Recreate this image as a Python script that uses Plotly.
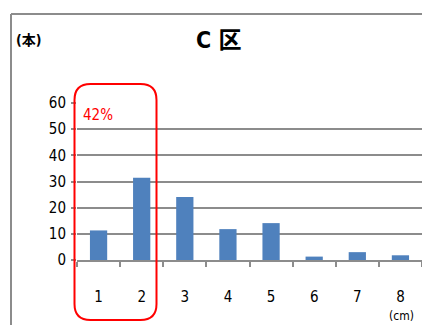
import plotly.graph_objects as go

# Stem diameter classes (cm) and tree counts
categories = ["1", "2", "3", "4", "5", "6", "7", "8"]
counts = [11.3, 31.4, 24.1, 11.8, 14.1, 1.3, 3.0, 1.8]
y_ticks = [0, 10, 20, 30, 40, 50, 60]
share_label = "42%"

W, H = 422, 325
L, R, T, B = 77, 0, 103, 65
PW = W - L - R
PH = H - T - B

def px(x):
    return (x - L) / PW

def py(y):
    return (H - B - y) / PH

font_main = "Liberation Sans Narrow, DejaVu Sans Condensed, Liberation Sans"

fig = go.Figure(
    go.Bar(
        x=categories,
        y=counts,
        width=0.4,
        marker=dict(color="#4f81bd", line=dict(width=0)),
        hoverinfo="skip",
    )
)

# rounded box around classes 1-2
x0, x1, y0, y1, r = 74.5, 156.5, 84, 320, 16
path = (
    f"M {px(x0 + r)},{py(y0)} L {px(x1 - r)},{py(y0)} "
    f"Q {px(x1)},{py(y0)} {px(x1)},{py(y0 + r)} "
    f"L {px(x1)},{py(y1 - r)} Q {px(x1)},{py(y1)} {px(x1 - r)},{py(y1)} "
    f"L {px(x0 + r)},{py(y1)} Q {px(x0)},{py(y1)} {px(x0)},{py(y1 - r)} "
    f"L {px(x0)},{py(y0 + r)} Q {px(x0)},{py(y0)} {px(x0 + r)},{py(y0)} Z"
)

shapes = [
    dict(type="path", xref="paper", yref="paper", path=path,
         line=dict(color="#ff0000", width=2)),
    # outer frame lines
    dict(type="line", xref="paper", yref="paper",
         x0=px(11), x1=px(422), y0=py(14), y1=py(14),
         line=dict(color="#8c8c8c", width=2)),
    dict(type="line", xref="paper", yref="paper",
         x0=px(11), x1=px(11), y0=py(14), y1=py(325),
         line=dict(color="#8c8c8c", width=2)),
]

annotations = [
    dict(text="<b>C 区</b>", xref="paper", yref="paper", x=px(218), y=py(40),
         showarrow=False, font=dict(size=23, color="#000000",
                                    family=font_main + ", Noto Sans CJK JP"),
         xanchor="center", yanchor="middle"),
    dict(text="<b>(本)</b>", xref="paper", yref="paper", x=px(29), y=py(40),
         showarrow=False, font=dict(size=14, color="#000000",
                                    family=font_main + ", Noto Sans CJK JP"),
         xanchor="center", yanchor="middle"),
    dict(text="(cm)", xref="paper", yref="paper", x=px(401), y=py(316),
         showarrow=False, font=dict(size=12, color="#000000", family=font_main),
         xanchor="center", yanchor="middle"),
    dict(text=share_label, xref="paper", yref="paper", x=px(98), y=py(115),
         showarrow=False, font=dict(size=15, color="#ff0000", family=font_main),
         xanchor="center", yanchor="middle"),
]

fig.update_layout(
    width=W, height=H,
    margin=dict(l=L, r=R, t=T, b=B, pad=0),
    paper_bgcolor="white", plot_bgcolor="white",
    showlegend=False,
    bargap=0.6,
    shapes=shapes,
    annotations=annotations,
    font=dict(family=font_main, size=14, color="#000000"),
)
fig.update_xaxes(
    type="category",
    showgrid=False,
    showline=True, linecolor="#8c8c8c", linewidth=2,
    ticks="outside", tickson="boundaries", ticklen=5, tickwidth=2,
    tickcolor="#8c8c8c",
    ticklabelstandoff=22,
    tickfont=dict(size=15, family=font_main),
    fixedrange=True,
)
fig.update_yaxes(
    range=[0, 60],
    tickvals=y_ticks,
    showgrid=True, gridcolor="#8c8c8c", gridwidth=2,
    showline=False, zeroline=False,
    ticks="outside", ticklen=5, tickwidth=2, tickcolor="#8c8c8c",
    ticklabelstandoff=2,
    tickfont=dict(size=15, family=font_main),
    fixedrange=True,
)

fig.write_html("out.html", config={"displayModeBar": False})
